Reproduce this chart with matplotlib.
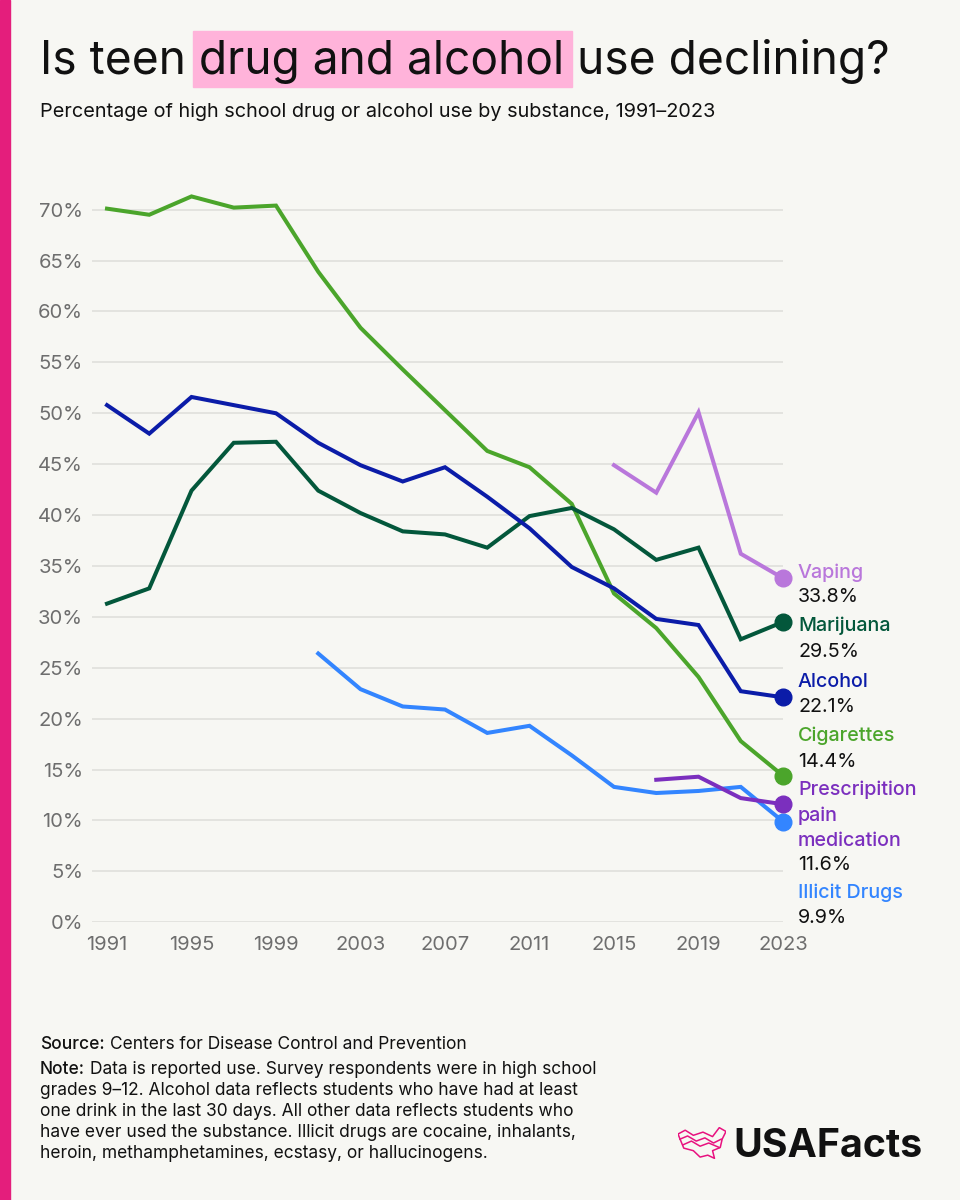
import matplotlib
matplotlib.use("Agg")
import matplotlib.pyplot as plt
from matplotlib.patches import Rectangle

plt.rcParams['font.family'] = ['Inter', 'DejaVu Sans']

# data (percent of high school students)
years = list(range(1991, 2024, 2))
cigarettes = [70.1, 69.5, 71.3, 70.2, 70.4, 63.9, 58.4, 54.3, 50.3, 46.3, 44.7, 41.1, 32.3, 28.9, 24.1, 17.8, 14.4]
alcohol = [50.8, 48.0, 51.6, 50.8, 50.0, 47.1, 44.9, 43.3, 44.7, 41.8, 38.7, 34.9, 32.8, 29.8, 29.2, 22.7, 22.1]
marijuana = [31.3, 32.8, 42.4, 47.1, 47.2, 42.4, 40.2, 38.4, 38.1, 36.8, 39.9, 40.7, 38.6, 35.6, 36.8, 27.8, 29.5]
vaping_years = list(range(2015, 2024, 2))
vaping = [44.9, 42.2, 50.1, 36.2, 33.8]
illicit_years = list(range(2001, 2024, 2))
illicit = [26.4, 22.9, 21.2, 20.9, 18.6, 19.3, 16.4, 13.3, 12.7, 12.9, 13.3, 9.9]
rx_years = list(range(2017, 2024, 2))
rx = [14.0, 14.3, 12.2, 11.6]

BG = '#F7F7F3'
W, H = 960, 1200


def px(x, y):
    return x / W, 1 - y / H


fig = plt.figure(figsize=(9.6, 12), dpi=100, facecolor=BG)
renderer = fig.canvas.get_renderer()


def text_width(s, **kw):
    t = fig.text(0, 0, s, **kw)
    w = t.get_window_extent(renderer).width
    t.remove()
    return w


# pink bar on the left
fig.patches.append(Rectangle((0, 0), 10 / W, 1, transform=fig.transFigure,
                             color='#E41E7C', zorder=5))

# title with highlighted words
title_kw = dict(fontsize=33.2, color='#111111')
hl_start = 40 + text_width("Is teen d", **title_kw) - text_width("d", **title_kw)
hl_end = 40 + text_width("Is teen drug and alcohol", **title_kw)
fig.patches.append(Rectangle(px(hl_start - 6, 86.7), (hl_end - hl_start + 14) / W, 56 / H,
                             transform=fig.transFigure, color='#FFB3DA', zorder=1))
fig.text(*px(40, 73.5), "Is teen drug and alcohol use declining?", va='baseline',
         zorder=2, **title_kw)
fig.text(*px(40, 117), "Percentage of high school drug or alcohol use by substance, 1991\u20132023",
         fontsize=14.3, color='#111111', va='baseline')

# main chart
ax = fig.add_axes([92 / W, 1 - 922.3 / H, (783 - 92) / W, (922.3 - 189.3) / H])
ax.set_facecolor(BG)
for s in ax.spines.values():
    s.set_visible(False)

series = [
    (illicit_years, illicit, '#3385FF', 'Illicit Drugs'),
    (rx_years, rx, '#7B2FBE', 'Prescripition\npain\nmedication'),
    (years, cigarettes, '#4BA52B', 'Cigarettes'),
    (years, marijuana, '#03573B', 'Marijuana'),
    (years, alcohol, '#0B1CA8', 'Alcohol'),
    (vaping_years, vaping, '#B977DB', 'Vaping'),
]
for i, (x, y, c, name) in enumerate(series):
    ax.plot(x, y, color=c, lw=2.9, solid_joinstyle='miter', zorder=3 + i, clip_on=False)
    ax.plot(x[-1], y[-1], 'o', color=c, ms=12, zorder=3 + i, clip_on=False)

ax.set_xlim(1991 - 15 / 42.25 * 2, 2023)
ax.set_ylim(0, 72)
ax.set_yticks(range(0, 71, 5))
ax.set_yticklabels([f"{v}%" for v in range(0, 71, 5)])
ax.set_xticks(range(1991, 2024, 4))
ax.set_xticklabels([str(v) for v in range(1991, 2024, 4)])
ax.tick_params(length=0, labelsize=14.5, labelcolor='#6E6E6E')
ax.tick_params(axis='y', pad=6.5)
ax.tick_params(axis='x', pad=10)
ax.grid(axis='y', color='#DEDED9', lw=1.1, zorder=0)
ax.set_axisbelow(True)

# end labels: (name baseline lines in px, value baseline)
label_layout = {
    'Vaping': ([577.5], 602),
    'Marijuana': ([630.7], 656.7),
    'Alcohol': ([686.7], 712.3),
    'Cigarettes': ([740.7], 766.7),
    'Prescripition\npain\nmedication': ([795, 820.7, 845.5], 870),
    'Illicit Drugs': ([898.3], 923.3),
}
for x, y, c, name in series:
    lines, vy = label_layout[name]
    for ln, ly in zip(name.split('\n'), lines):
        fig.text(*px(798, ly), ln, fontsize=14.2, color=c, fontweight='medium', va='baseline')
    fig.text(*px(798, vy), f"{y[-1]:.1f}%", fontsize=14.2, color='#111111', va='baseline')

# footer
foot_kw = dict(fontsize=12.5, color='#111111', va='baseline')
space = text_width("a a", **foot_kw) - text_width("aa", **foot_kw)
fig.text(*px(40, 1049.3), "Source:", fontweight='medium', **foot_kw)
fig.text(*px(40 + text_width("Source:", fontweight='medium', **foot_kw) + space, 1049.3),
         "Centers for Disease Control and Prevention", **foot_kw)
note_lines = [
    "Data is reported use. Survey respondents were in high school",
    "grades 9\u201312. Alcohol data reflects students who have had at least",
    "one drink in the last 30 days. All other data reflects students who",
    "have ever used the substance. Illicit drugs are cocaine, inhalants,",
    "heroin, methamphetamines, ecstasy, or hallucinogens.",
]
fig.text(*px(40, 1074.3), "Note:", fontweight='medium', **foot_kw)
fig.text(*px(40 + text_width("Note:", fontweight='medium', **foot_kw) + space, 1074.3),
         note_lines[0], **foot_kw)
for i, line in enumerate(note_lines[1:]):
    fig.text(*px(40, 1074.3 + 20.8 * (i + 1)), line, **foot_kw)

# logo
fig.text(*px(733, 1157), "USAFacts", fontsize=28.3, fontweight='bold', color='#111111',
         va='baseline')
lax = fig.add_axes([678 / W, 1 - 1159 / H, 48 / W, 32 / H])
lax.set_axis_off()
lax.set_xlim(0, 1)
lax.set_ylim(0, 1)
outline = [(0.0, 0.78), (0.15, 0.9), (0.32, 0.74), (0.52, 0.84), (0.72, 0.7), (0.86, 0.98),
           (1.0, 0.86), (0.92, 0.62), (0.88, 0.36), (0.72, 0.26), (0.76, 0.02), (0.62, 0.12),
           (0.46, 0.06), (0.32, 0.26), (0.12, 0.34), (0.06, 0.56), (0.0, 0.78)]
lax.plot(*zip(*outline), color='#E8117F', lw=1.1, solid_joinstyle='round')
lax.plot([0.04, 0.2, 0.38, 0.56, 0.74, 0.9], [0.62, 0.72, 0.56, 0.66, 0.5, 0.62],
         color='#E8117F', lw=1.1)
lax.plot([0.1, 0.28, 0.46, 0.64, 0.86], [0.44, 0.56, 0.4, 0.5, 0.36],
         color='#E8117F', lw=1.1)

fig.savefig("out.png", dpi=100, facecolor=BG)
